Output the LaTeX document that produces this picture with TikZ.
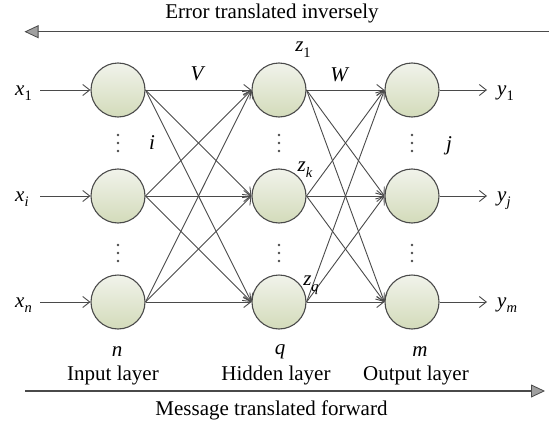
\documentclass[tikz,border=0pt]{standalone}
\usepackage{fontspec}
\setmainfont{Liberation Serif}
\usetikzlibrary{arrows.meta}
\definecolor{linec}{HTML}{4A4A4A}
\definecolor{nodetop}{HTML}{F1F3EB}
\definecolor{nodebot}{HTML}{D3DBBA}
\definecolor{headfill}{HTML}{A0A0A0}
\newcommand{\mylab}[2]{\textit{#1}\raisebox{-0.28em}{\fontsize{14.5}{14.5}\selectfont #2}}
\begin{document}
\begin{tikzpicture}[x=1pt,y=-1pt,
  neuron/.style={circle,draw=linec,line width=1.1pt,minimum size=54pt,inner sep=0pt,top color=nodetop,bottom color=nodebot},
  conn/.style={draw=linec,line width=0.9pt,-{Straight Barb[length=7pt,width=11pt,line width=0.9pt]}},
  bigarrow/.style={draw=linec,line width=1.4pt,-{Triangle[length=14pt,width=13pt,fill=headfill,line width=0.8pt]}},
  txt/.style={font=\fontsize{21}{21}\selectfont,inner sep=0pt},
  dotc/.style={fill=linec,draw=none}
]
\useasboundingbox (0,0) rectangle (549,423);
% neurons
\foreach \n/\y in {1/90,2/196,3/302}{
  \node[neuron] (I\n) at (118,\y) {};
  \node[neuron] (H\n) at (279,\y) {};
  \node[neuron] (O\n) at (412,\y) {};
}
% connections
\foreach \a in {1,2,3}{
  \foreach \b in {1,2,3}{
    \draw[conn] (I\a.east) -- (H\b.west);
    \draw[conn] (H\a.east) -- (O\b.west);
  }
}
% inputs
\node[txt,anchor=base west] (x1) at (15,95) {\mylab{x}{1}};
\node[txt,anchor=base west] (xi) at (15,201) {\mylab{x}{\textit{i}}};
\node[txt,anchor=base west] (xn) at (15,307) {\mylab{x}{\textit{n}}};
\coordinate (s1) at (40,90);
\coordinate (s2) at (40,196);
\coordinate (s3) at (40,302);
\foreach \n in {1,2,3}{\draw[conn] (s\n) -- (I\n.west);}
% outputs
\coordinate (e1) at (487,90);
\coordinate (e2) at (487,196);
\coordinate (e3) at (487,302);
\foreach \n in {1,2,3}{\draw[conn] (O\n.east) -- (e\n);}
\node[txt,anchor=base west] (y1) at (497,95) {\mylab{y}{1}};
\node[txt,anchor=base west] (yj) at (497,201) {\mylab{y}{\textit{j}}};
\node[txt,anchor=base west] (ym) at (497,307) {\mylab{y}{\textit{m}}};
% dots
\foreach \xx in {118,279,412}{
  \foreach \yy in {143,253}{
    \fill[dotc] (\xx,\yy-8) circle (1.3pt);
    \fill[dotc] (\xx,\yy) circle (1.3pt);
    \fill[dotc] (\xx,\yy+8) circle (1.3pt);
  }
}
% labels
\node[txt] (li) at (152,143) {\textit{i}};
\node[txt] (lj) at (449,146) {\textit{j}};
\node[txt] (lV) at (198,74) {\textit{V}};
\node[txt] (lW) at (340,75) {\textit{W}};
\node[txt] (z1) at (303,50) {\mylab{z}{1}};
\node[txt] (zk) at (305,170) {\mylab{z}{\textit{k}}};
\node[txt] (zq) at (311,285) {\mylab{z}{\textit{q}}};
\node[txt] (ln) at (117,352) {\textit{n}};
\node[txt] (lq) at (280,352) {\textit{q}};
\node[txt] (lm) at (420,352) {\textit{m}};
\node[txt,anchor=base] (inl) at (113,380) {Input layer};
\node[txt,anchor=base] (hil) at (276,380) {Hidden layer};
\node[txt,anchor=base] (oul) at (416,380) {Output layer};
% big arrows
\coordinate (ta) at (549,31.7);
\coordinate (tb) at (24.5,31.7);
\draw[bigarrow] (ta) -- (tb);
\node[txt,anchor=base] (err) at (272,19) {Error translated inversely};
\coordinate (ba) at (25,391);
\coordinate (bb) at (545,391);
\draw[bigarrow] (ba) -- (bb);
\node[txt,anchor=base] (msg) at (271.5,415) {Message translated forward};
\end{tikzpicture}
\end{document}
